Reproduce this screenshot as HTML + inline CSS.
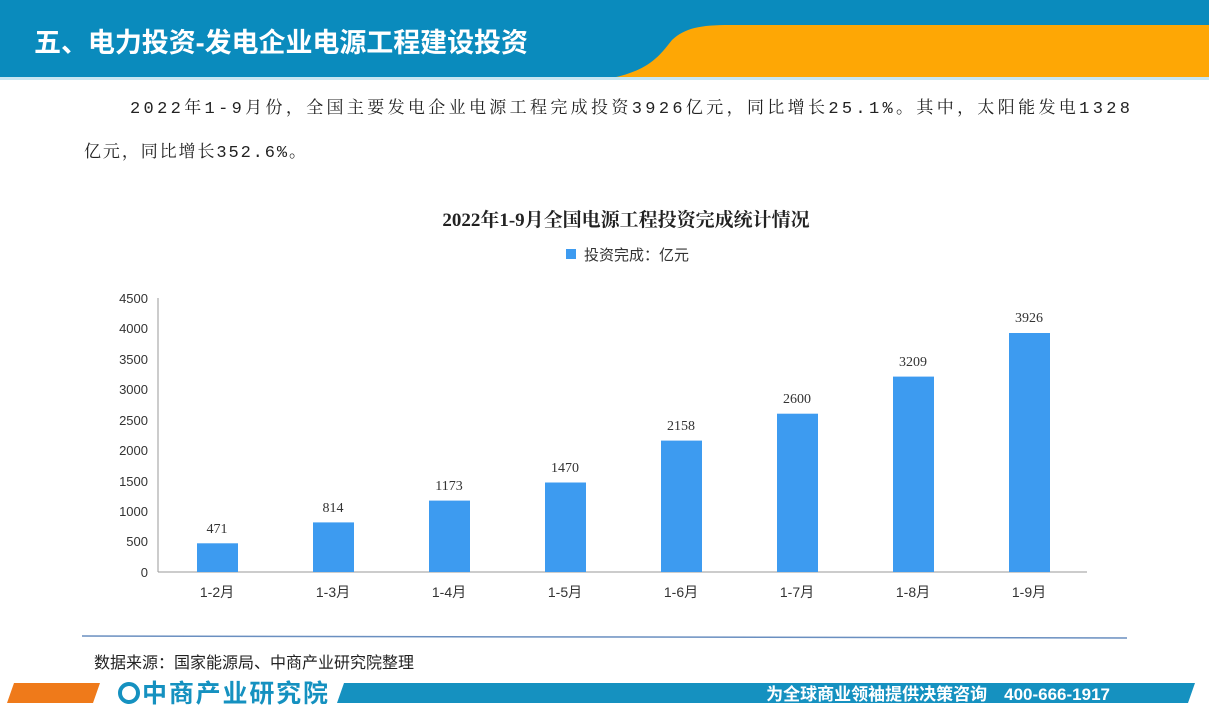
<!DOCTYPE html>
<html><head><meta charset="utf-8"><style>
body{margin:0;width:1209px;height:718px;background:#fff;position:relative;overflow:hidden;font-family:"Liberation Sans","Noto Sans CJK SC",sans-serif}
.a{position:absolute}
</style></head><body>
<svg class="a" style="left:0;top:0" width="1209" height="718">
<rect x="0" y="0" width="1209" height="78" fill="#0a8bbd"/>
<path d="M612,78 C650,70 660,55 672,40 C685,28 700,25 730,25 L1209,25 L1209,78 Z" fill="#fea705"/>
<rect x="0" y="77" width="1209" height="3" fill="#c8e6f2"/>
<text x="34" y="52" font-size="27" font-weight="bold" fill="#fff" textLength="494" font-family="Liberation Sans,Noto Sans CJK SC,sans-serif">五、电力投资-发电企业电源工程建设投资</text>
<text x="130" y="113" font-size="17" fill="#222" textLength="1000" font-family="Liberation Mono,Noto Serif CJK SC,serif">2022年1-9月份，全国主要发电企业电源工程完成投资3926亿元，同比增长25.1%。其中，太阳能发电1328</text>
<text x="84" y="157" font-size="17" fill="#222" textLength="222" font-family="Liberation Mono,Noto Serif CJK SC,serif">亿元，同比增长352.6%。</text>
<text x="626" y="226" font-size="19" font-weight="bold" text-anchor="middle" fill="#222" font-family="Liberation Serif,Noto Serif CJK SC,serif">2022年1-9月全国电源工程投资完成统计情况</text>
<rect x="566" y="249" width="10" height="10" fill="#3d9bf0"/>
<text x="584" y="260" font-size="15" fill="#333">投资完成：亿元</text>
<g font-size="13" fill="#333" text-anchor="end" font-family="Liberation Sans,sans-serif">
<text x="148" y="577">0</text><text x="148" y="546">500</text><text x="148" y="516">1000</text><text x="148" y="486">1500</text><text x="148" y="455">2000</text><text x="148" y="425">2500</text><text x="148" y="394">3000</text><text x="148" y="364">3500</text><text x="148" y="333">4000</text><text x="148" y="303">4500</text>
</g>
<line x1="158" y1="298" x2="158" y2="572" stroke="#999"/>
<line x1="158" y1="572" x2="1087" y2="572" stroke="#999"/>
<g fill="#3d9bf0">
<rect x="197" y="543.3" width="41" height="28.7"/>
<rect x="313" y="522.4" width="41" height="49.6"/>
<rect x="429" y="500.6" width="41" height="71.4"/>
<rect x="545" y="482.5" width="41" height="89.5"/>
<rect x="661" y="440.6" width="41" height="131.4"/>
<rect x="777" y="413.7" width="41" height="158.3"/>
<rect x="893" y="376.6" width="41" height="195.4"/>
<rect x="1009" y="333" width="41" height="239"/>
</g>
<g font-size="14" fill="#333" text-anchor="middle" font-family="Liberation Serif,serif">
<text x="217" y="533">471</text><text x="333" y="512">814</text><text x="449" y="490">1173</text><text x="565" y="472">1470</text><text x="681" y="430">2158</text><text x="797" y="403">2600</text><text x="913" y="366">3209</text><text x="1029" y="322">3926</text>
</g>
<g font-size="14" fill="#333" text-anchor="middle" font-family="Liberation Sans,Noto Sans CJK SC,sans-serif">
<text x="217" y="597">1-2月</text><text x="333" y="597">1-3月</text><text x="449" y="597">1-4月</text><text x="565" y="597">1-5月</text><text x="681" y="597">1-6月</text><text x="797" y="597">1-7月</text><text x="913" y="597">1-8月</text><text x="1029" y="597">1-9月</text>
</g>
<line x1="82" y1="636" x2="1127" y2="638" stroke="#6a8fc0" stroke-width="1.5"/>
<text x="94" y="668" font-size="16" fill="#222">数据来源：国家能源局、中商产业研究院整理</text>
<path d="M14,683 L100,683 L93,703 L7,703 Z" fill="#ef7a1a"/>
<path d="M344,683 L1195,683 L1188,703 L337,703 Z" fill="#1591c0"/>
<circle cx="129" cy="693" r="9" fill="none" stroke="#1591c0" stroke-width="4"/>
<text x="142" y="702" font-size="25" fill="#1591c0" textLength="186" font-weight="bold">中商产业研究院</text>
<text x="1110" y="700" font-size="17" font-weight="bold" fill="#fff" text-anchor="end">为全球商业领袖提供决策咨询　400-666-1917</text>
</svg>
</body></html>
